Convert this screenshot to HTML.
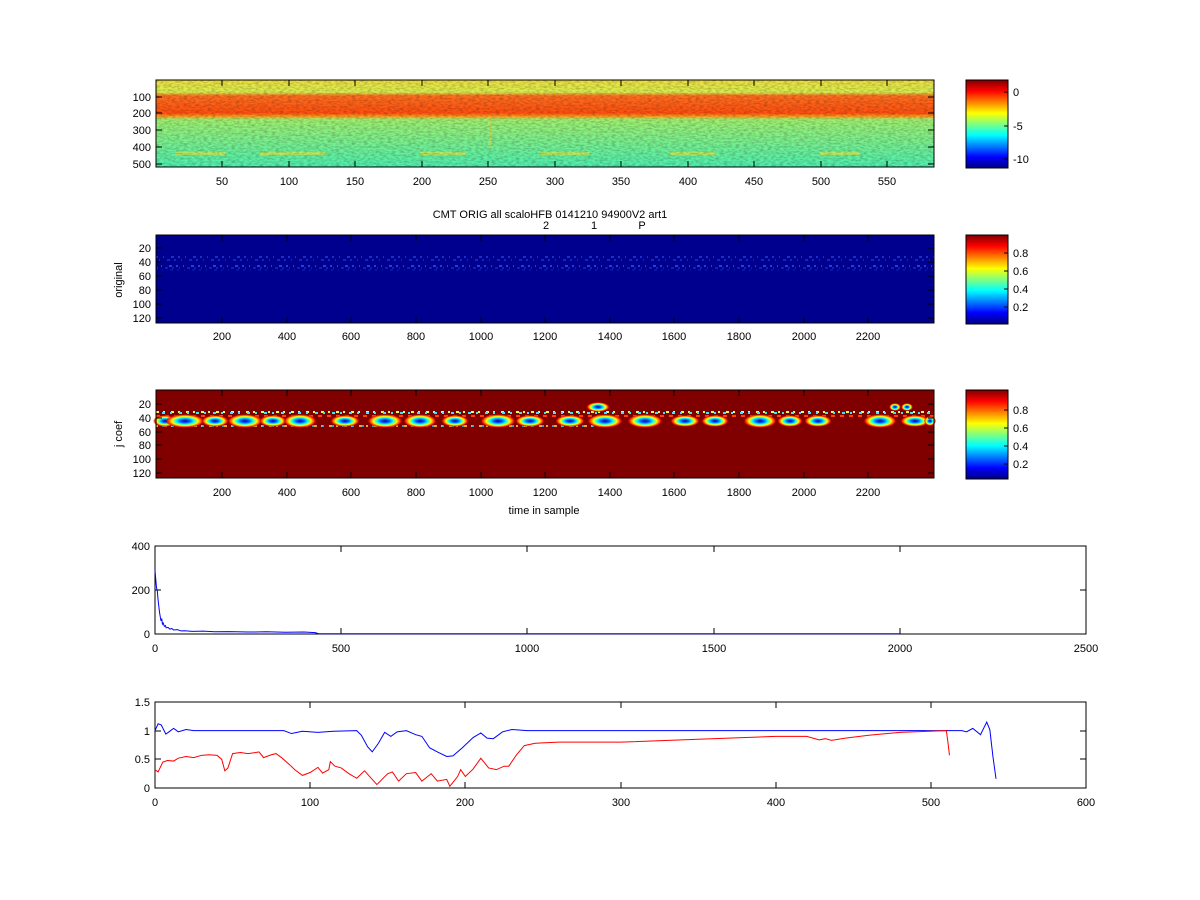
<!DOCTYPE html>
<html><head><meta charset="utf-8"><style>
body{margin:0;background:#fff}
svg{display:block}
text{font-family:"Liberation Sans",sans-serif;font-size:11px;fill:#000}
</style></head><body>
<svg width="1200" height="900" viewBox="0 0 1200 900" xmlns="http://www.w3.org/2000/svg">
<defs>
<linearGradient id="jet" x1="0" y1="0" x2="0" y2="1">
<stop offset="0" stop-color="#800000"/><stop offset="0.125" stop-color="#ff0000"/>
<stop offset="0.375" stop-color="#ffff00"/><stop offset="0.625" stop-color="#00ffff"/>
<stop offset="0.875" stop-color="#0000ff"/><stop offset="1" stop-color="#000080"/>
</linearGradient>
<linearGradient id="h1" x1="0" y1="0" x2="0" y2="1">
<stop offset="0" stop-color="#f0e040"/><stop offset="0.14" stop-color="#d8f050"/>
<stop offset="0.18" stop-color="#ff7020"/><stop offset="0.38" stop-color="#ff5010"/>
<stop offset="0.42" stop-color="#ffa020"/><stop offset="0.45" stop-color="#a0f070"/>
<stop offset="1" stop-color="#50f0b0"/>
</linearGradient>
<radialGradient id="blob">
<stop offset="0" stop-color="#0000a0"/><stop offset="0.25" stop-color="#0060ff"/>
<stop offset="0.45" stop-color="#00ffff"/><stop offset="0.65" stop-color="#ffff00"/>
<stop offset="0.85" stop-color="#ff2000"/><stop offset="1" stop-color="#800000" stop-opacity="0"/>
</radialGradient>
<filter id="noise" x="0" y="0" width="100%" height="100%">
<feTurbulence type="fractalNoise" baseFrequency="0.25 0.6" numOctaves="2" seed="3"/>
<feColorMatrix type="matrix" values="0 0 0 0 0  0 0 0 0 0  0 0 0 0 0  0 0 0 1.4 -0.5"/>
</filter>
</defs>

<!-- Panel 1 -->
<rect x="156" y="80" width="778" height="87" fill="url(#h1)"/>
<g fill="#e8e840" opacity="0.6">
<rect x="175" y="152" width="50" height="3"/><rect x="260" y="152" width="65" height="3"/>
<rect x="420" y="152" width="45" height="3"/><rect x="540" y="152" width="50" height="3"/>
<rect x="670" y="152" width="45" height="3"/><rect x="820" y="152" width="40" height="3"/>
<rect x="490" y="118" width="2" height="30" fill="#e0d040"/>
</g>
<rect x="156" y="80" width="778" height="87" filter="url(#noise)" opacity="0.35"/>
<rect x="156" y="80" width="778" height="87" fill="none" stroke="#000"/>
<g stroke="#000">
<path d="M222 80v6M289 80v6M355 80v6M422 80v6M488 80v6M555 80v6M621 80v6M688 80v6M754 80v6M821 80v6M887 80v6"/>
<path d="M222 167v-6M289 167v-6M355 167v-6M422 167v-6M488 167v-6M555 167v-6M621 167v-6M688 167v-6M754 167v-6M821 167v-6M887 167v-6"/>
<path d="M156 97h6M156 113h6M156 130h6M156 147h6M156 164h6M934 97h-6M934 113h-6M934 130h-6M934 147h-6M934 164h-6"/>
</g>
<g text-anchor="end"><text x="151" y="101">100</text><text x="151" y="117">200</text><text x="151" y="134">300</text><text x="151" y="151">400</text><text x="151" y="168">500</text></g>
<g text-anchor="middle"><text x="222" y="185">50</text><text x="289" y="185">100</text><text x="355" y="185">150</text><text x="422" y="185">200</text><text x="488" y="185">250</text><text x="555" y="185">300</text><text x="621" y="185">350</text><text x="688" y="185">400</text><text x="754" y="185">450</text><text x="821" y="185">500</text><text x="887" y="185">550</text></g>
<rect x="966" y="80" width="42" height="88" fill="url(#jet)" stroke="#000"/>
<path d="M1008 92h-4M1008 126h-4M1008 159h-4" stroke="#000"/>
<text x="1013" y="96">0</text><text x="1013" y="130">-5</text><text x="1013" y="163">-10</text>

<!-- title -->
<text x="550" y="218" text-anchor="middle">CMT ORIG all scaloHFB 0141210 94900V2 art1</text>
<text x="546" y="229" text-anchor="middle">2</text><text x="594" y="229" text-anchor="middle">1</text><text x="642" y="229" text-anchor="middle">P</text>

<!-- Panel 2 -->
<rect x="156" y="235" width="778" height="88" fill="#00008f"/>
<g stroke-dasharray="2 5 1 7 3 4" stroke-width="2">
<line x1="156" y1="257" x2="934" y2="257" stroke="#1530d0"/>
<line x1="156" y1="260" x2="934" y2="260" stroke="#1028c0" stroke-dashoffset="4"/>
<line x1="156" y1="266" x2="934" y2="266" stroke="#2040e0" stroke-dashoffset="2"/>
<line x1="156" y1="268" x2="934" y2="268" stroke="#1020b0" stroke-dashoffset="6"/>
<line x1="156" y1="270" x2="934" y2="270" stroke="#1020b0" stroke-dashoffset="1" opacity="0.6"/>
</g>
<rect x="156" y="235" width="778" height="88" fill="none" stroke="#000"/>
<g stroke="#000">
<path d="M222 235v6M287 235v6M351 235v6M416 235v6M481 235v6M545 235v6M610 235v6M674 235v6M739 235v6M804 235v6M868 235v6"/>
<path d="M222 323v-6M287 323v-6M351 323v-6M416 323v-6M481 323v-6M545 323v-6M610 323v-6M674 323v-6M739 323v-6M804 323v-6M868 323v-6"/>
<path d="M156 248h6M156 262h6M156 276h6M156 290h6M156 304h6M156 318h6M934 248h-6M934 262h-6M934 276h-6M934 290h-6M934 304h-6M934 318h-6"/>
</g>
<g text-anchor="end"><text x="151" y="252">20</text><text x="151" y="266">40</text><text x="151" y="280">60</text><text x="151" y="294">80</text><text x="151" y="308">100</text><text x="151" y="322">120</text></g>
<text transform="translate(122,280) rotate(-90)" text-anchor="middle">original</text>
<g text-anchor="middle"><text x="222" y="340">200</text><text x="287" y="340">400</text><text x="351" y="340">600</text><text x="416" y="340">800</text><text x="481" y="340">1000</text><text x="545" y="340">1200</text><text x="610" y="340">1400</text><text x="674" y="340">1600</text><text x="739" y="340">1800</text><text x="804" y="340">2000</text><text x="868" y="340">2200</text></g>
<rect x="966" y="235" width="42" height="89" fill="url(#jet)" stroke="#000"/>
<path d="M1008 253h-4M1008 271h-4M1008 289h-4M1008 307h-4" stroke="#000"/>
<text x="1013" y="257">0.8</text><text x="1013" y="275">0.6</text><text x="1013" y="293">0.4</text><text x="1013" y="311">0.2</text>

<!-- Panel 3 -->
<rect x="156" y="390" width="778" height="88" fill="#800000"/>
<g stroke-width="2">
<line x1="156" y1="412" x2="934" y2="412" stroke="#ffff40" stroke-dasharray="3 4 2 6"/>
<line x1="156" y1="413" x2="934" y2="413" stroke="#40e0ff" stroke-dasharray="2 7 3 5" stroke-dashoffset="3"/>
<line x1="156" y1="416" x2="934" y2="416" stroke="#ff4000" stroke-dasharray="4 5"/>
<line x1="156" y1="426" x2="600" y2="426" stroke="#ffd040" stroke-dasharray="2 6 3 4" opacity="0.8"/>
<line x1="156" y1="426" x2="600" y2="426" stroke="#30c0ff" stroke-dasharray="2 8" stroke-dashoffset="4" opacity="0.8"/>
</g>
<g fill="url(#blob)">
<ellipse cx="165" cy="421" rx="12" ry="6"/><ellipse cx="185" cy="421" rx="20" ry="7"/><ellipse cx="215" cy="421" rx="14" ry="6"/>
<ellipse cx="245" cy="421" rx="18" ry="7"/><ellipse cx="273" cy="421" rx="14" ry="6"/><ellipse cx="300" cy="421" rx="17" ry="7"/>
<ellipse cx="345" cy="421" rx="15" ry="6"/><ellipse cx="385" cy="421" rx="18" ry="7"/><ellipse cx="420" cy="421" rx="17" ry="7"/>
<ellipse cx="455" cy="421" rx="14" ry="6"/><ellipse cx="498" cy="421" rx="18" ry="7"/><ellipse cx="530" cy="421" rx="15" ry="6"/>
<ellipse cx="570" cy="421" rx="15" ry="6"/><ellipse cx="605" cy="421" rx="18" ry="7"/><ellipse cx="645" cy="421" rx="18" ry="7"/>
<ellipse cx="685" cy="421" rx="15" ry="6"/><ellipse cx="715" cy="421" rx="14" ry="6"/><ellipse cx="760" cy="421" rx="17" ry="7"/>
<ellipse cx="790" cy="421" rx="13" ry="6"/><ellipse cx="818" cy="421" rx="14" ry="6"/><ellipse cx="880" cy="421" rx="17" ry="7"/>
<ellipse cx="915" cy="421" rx="15" ry="6"/><ellipse cx="930" cy="421" rx="6" ry="5"/>
<ellipse cx="598" cy="407" rx="12" ry="5"/><ellipse cx="895" cy="407" rx="6" ry="4"/><ellipse cx="907" cy="407" rx="6" ry="4"/>
</g>
<rect x="156" y="390" width="778" height="88" fill="none" stroke="#000"/>
<g stroke="#000">
<path d="M222 390v6M287 390v6M351 390v6M416 390v6M481 390v6M545 390v6M610 390v6M674 390v6M739 390v6M804 390v6M868 390v6"/>
<path d="M222 478v-6M287 478v-6M351 478v-6M416 478v-6M481 478v-6M545 478v-6M610 478v-6M674 478v-6M739 478v-6M804 478v-6M868 478v-6"/>
<path d="M156 404h6M156 418h6M156 432h6M156 445h6M156 459h6M156 473h6M934 404h-6M934 418h-6M934 432h-6M934 445h-6M934 459h-6M934 473h-6"/>
</g>
<g text-anchor="end"><text x="151" y="408">20</text><text x="151" y="422">40</text><text x="151" y="436">60</text><text x="151" y="449">80</text><text x="151" y="463">100</text><text x="151" y="477">120</text></g>
<text transform="translate(122,434) rotate(-90)" text-anchor="middle">j coef</text>
<g text-anchor="middle"><text x="222" y="496">200</text><text x="287" y="496">400</text><text x="351" y="496">600</text><text x="416" y="496">800</text><text x="481" y="496">1000</text><text x="545" y="496">1200</text><text x="610" y="496">1400</text><text x="674" y="496">1600</text><text x="739" y="496">1800</text><text x="804" y="496">2000</text><text x="868" y="496">2200</text></g>
<text x="544" y="514" text-anchor="middle">time in sample</text>
<rect x="966" y="390" width="42" height="89" fill="url(#jet)" stroke="#000"/>
<path d="M1008 410h-4M1008 428h-4M1008 446h-4M1008 464h-4" stroke="#000"/>
<text x="1013" y="414">0.8</text><text x="1013" y="432">0.6</text><text x="1013" y="450">0.4</text><text x="1013" y="468">0.2</text>

<!-- Panel 4 -->
<rect x="155" y="546" width="931" height="88" fill="none" stroke="#000"/>
<g stroke="#000">
<path d="M341 546v6M527 546v6M714 546v6M900 546v6M341 634v-6M527 634v-6M714 634v-6M900 634v-6"/>
<path d="M155 590h6M1086 590h-6"/>
</g>
<g transform="translate(155,634) scale(0.3724,-0.22)">
<polyline fill="none" stroke="#0000ff" vector-effect="non-scaling-stroke" points="0,290 2,250 4,210 6,200 8,160 10,130 12,100 14,80 16,60 18,70 20,45 22,50 25,35 28,38 30,28 35,30 40,22 45,25 50,18 60,20 70,14 80,15 100,12 130,13 160,10 200,11 250,9 300,10 350,8 400,9 430,6 440,1 2000,1"/>
</g>
<g text-anchor="end"><text x="150" y="638">0</text><text x="150" y="594">200</text><text x="150" y="550">400</text></g>
<g text-anchor="middle"><text x="155" y="652">0</text><text x="341" y="652">500</text><text x="527" y="652">1000</text><text x="714" y="652">1500</text><text x="900" y="652">2000</text><text x="1086" y="652">2500</text></g>

<!-- Panel 5 -->
<rect x="155" y="702" width="931" height="86" fill="none" stroke="#000"/>
<g stroke="#000">
<path d="M310 702v6M465 702v6M621 702v6M776 702v6M931 702v6M310 788v-6M465 788v-6M621 788v-6M776 788v-6M931 788v-6"/>
<path d="M155 759h6M155 731h6M1086 759h-6M1086 731h-6"/>
</g>
<g transform="translate(155,788) scale(1.5517,-57.33)" fill="none">
<polyline stroke="#0000ff" vector-effect="non-scaling-stroke" points="0,1 2,1.12 4,1.1 7,0.94 10,1 12,1.04 15,0.98 20,1.02 25,1 83,1 88,0.95 95,0.99 105,0.97 115,0.99 130,1 133,0.92 137,0.72 140,0.63 144,0.78 148,0.97 152,0.9 156,0.98 162,1 168,0.93 172,0.9 177,0.7 182,0.63 188,0.55 192,0.56 198,0.7 205,0.88 210,0.96 214,0.87 218,0.86 224,0.98 230,1.02 240,1 520,1 523,0.98 527,1.04 532,0.93 536,1.15 538,1.02 540,0.55 542,0.16"/>
<polyline stroke="#ff0000" vector-effect="non-scaling-stroke" points="0,0.32 2,0.28 5,0.45 8,0.48 12,0.47 15,0.52 20,0.55 25,0.53 30,0.57 35,0.58 40,0.57 43,0.5 45,0.3 47,0.35 50,0.6 55,0.62 60,0.6 65,0.62 67,0.63 70,0.53 75,0.58 78,0.6 82,0.52 87,0.4 90,0.32 95,0.22 100,0.27 105,0.36 108,0.26 112,0.32 113,0.46 116,0.38 120,0.35 125,0.25 130,0.17 135,0.3 143,0.06 150,0.25 153,0.28 157,0.12 162,0.25 168,0.27 172,0.12 178,0.25 182,0.12 188,0.15 190,0.03 195,0.2 197,0.32 200,0.2 205,0.33 210,0.52 215,0.35 220,0.32 225,0.38 228,0.38 233,0.58 238,0.74 245,0.78 260,0.8 300,0.8 350,0.85 400,0.9 420,0.9 428,0.84 432,0.86 436,0.83 445,0.87 460,0.92 480,0.97 510,1 511,0.8 512,0.57"/>
</g>
<g text-anchor="end"><text x="150" y="792">0</text><text x="150" y="763">0.5</text><text x="150" y="735">1</text><text x="150" y="706">1.5</text></g>
<g text-anchor="middle"><text x="155" y="806">0</text><text x="310" y="806">100</text><text x="465" y="806">200</text><text x="621" y="806">300</text><text x="776" y="806">400</text><text x="931" y="806">500</text><text x="1086" y="806">600</text></g>
</svg>
</body></html>
